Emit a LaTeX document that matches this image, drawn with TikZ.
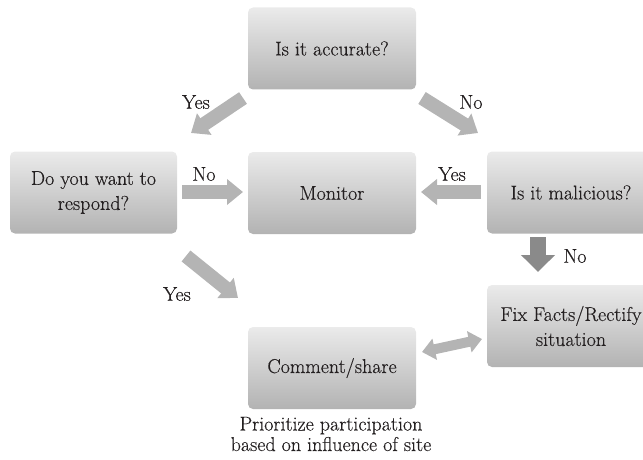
\documentclass[tikz,border=0pt]{standalone}
\usepackage{fontspec}
\usetikzlibrary{arrows.meta}
% slightly heavier roman for the diagram text
\newfontfamily\dfont{Latin Modern Roman}[FakeBold=0.35]
\definecolor{inkc}{HTML}{231F20}
\definecolor{arrowlight}{HTML}{B4B4B4}
\definecolor{arrowdark}{HTML}{8A8A8A}
\tikzset{
  stepbox/.style={rounded corners=5pt, top color=black!8, bottom color=black!30,
    draw=none, minimum width=168pt, minimum height=82pt, align=center,
    text=inkc, font=\dfont\fontsize{20}{25}\selectfont},
  lbl/.style={text=inkc, font=\dfont\fontsize{20}{22}\selectfont, inner sep=0pt},
  blockarrow/.style={draw=arrowlight, line width=14pt,
    -{Triangle[length=16pt,width=25pt]}},
  darkarrow/.style={draw=arrowdark, line width=16pt,
    -{Triangle[length=17pt,width=33pt]}},
  twoway/.style={draw=arrowlight, line width=10pt,
    {Triangle[length=13pt,width=21pt]}-{Triangle[length=13pt,width=21pt]}},
}
\begin{document}
\begin{tikzpicture}[x=1pt,y=-1pt]
\useasboundingbox (0,0) rectangle (643,460);
\clip (0,0) rectangle (643,460);

% decision and action boxes
\node[stepbox] (acc)  at (332,48.5) {Is it accurate?};
\node[stepbox] (mon)  at (332,193)  {Monitor};
\node[stepbox, minimum width=167pt] (resp) at (93.5,192.5) {Do you want to\\respond?};
\node[stepbox] (mal)  at (571,192.5) {Is it malicious?};
\node[stepbox] (fix)  at (571,326)  {Fix Facts/Rectify\\situation};
\node[stepbox] (com)  at (332,368)  {Comment/share};

\node[text=inkc, align=center, font=\dfont\fontsize{20}{20.5}\selectfont, inner sep=0pt]
  (note) at (331,434) {Prioritize participation\\based on influence of site};

% arrow end points in the gaps between boxes
\coordinate (yesLa) at (243,98);
\coordinate (yesLb) at (191,133);
\coordinate (noRa)  at (422,98);
\coordinate (noRb)  at (478,133);
\coordinate (noMa)  at (182,192);
\coordinate (noMb)  at (243,192);
\coordinate (yesMa) at (481,192);
\coordinate (yesMb) at (421,192);
\coordinate (noDa)  at (538,237);
\coordinate (noDb)  at (538,272);
\coordinate (yesCa) at (186,256);
\coordinate (yesCb) at (238,298);
\coordinate (twoA)  at (422,352);
\coordinate (twoB)  at (482,339);

\draw[blockarrow] (yesLa) -- (yesLb);
\draw[blockarrow] (noRa) -- (noRb);
\draw[blockarrow] (noMa) -- (noMb);
\draw[blockarrow] (yesMa) -- (yesMb);
\draw[darkarrow]  (noDa) -- (noDb);
\draw[blockarrow] (yesCa) -- (yesCb);
\draw[twoway]     (twoA) -- (twoB);

% branch labels
\node[lbl] (lYesL) at (196,102) {Yes};
\node[lbl] (lNoR)  at (471,102) {No};
\node[lbl] (lNoM)  at (204,174) {No};
\node[lbl] (lYesM) at (452,174) {Yes};
\node[lbl] (lNoD)  at (575,256) {No};
\node[lbl] (lYesC) at (177,294) {Yes};
\end{tikzpicture}
\end{document}
